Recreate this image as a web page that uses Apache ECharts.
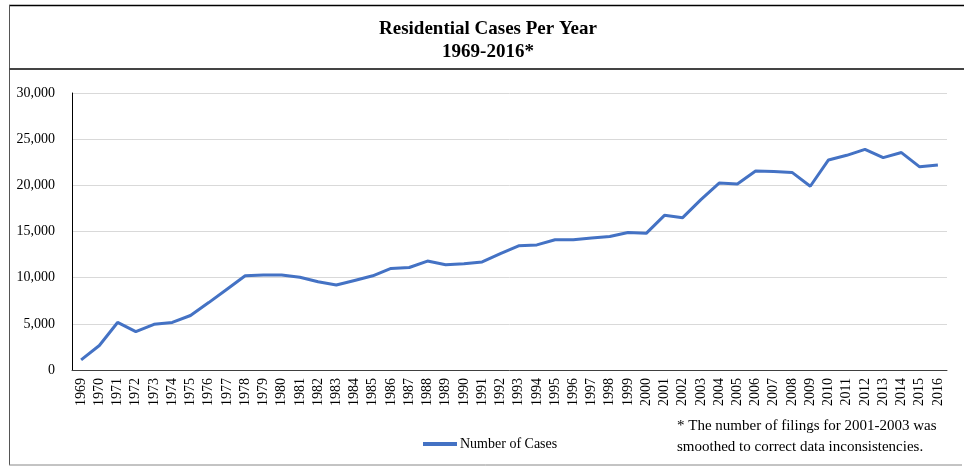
<!DOCTYPE html>
<html>
<head>
<meta charset="utf-8">
<script src="https://cdn.jsdelivr.net/npm/echarts@6/dist/echarts.min.js"></script>
<style>
  html, body { margin: 0; padding: 0; background: #fff; }
  #chart { width: 964px; height: 466px; }
</style>
</head>
<body>
<div id="chart"></div>
<script>
// Data
const years = [];
for (let y = 1969; y <= 2016; y++) years.push(String(y));

const cases = [
    1100, 2650, 5150, 4150, 4950, 5150, 5900, 7300, 8750, 10200,
    10300, 10300, 10050, 9550, 9200, 9700, 10200, 11000, 11100, 11800,
    11400, 11500, 11700, 12600, 13450, 13550, 14100, 14100, 14300, 14450,
    14900, 14800, 16750, 16500, 18450, 20250, 20150, 21550, 21500, 21400,
    19900, 22750, 23250, 23900, 23000, 23550, 22000, 22200
];

const yTicks = [0, 5000, 10000, 15000, 20000, 25000, 30000];

const serif = '"Liberation Serif", "Times New Roman", serif';

const chart = echarts.init(document.getElementById('chart'));
chart.setOption({
    backgroundColor: '#fff',
    animation: false,
    title: {
        text: 'Residential Cases Per Year\n1969-2016*',
        left: 488,
        top: 18,
        padding: 0,
        textAlign: 'center',
        textStyle: {
            fontFamily: serif,
            fontSize: 19,
            fontWeight: 'bold',
            color: '#000',
            lineHeight: 23
        }
    },
    legend: {
        data: ['Number of Cases'],
        left: 418,
        top: 432,
        itemWidth: 34,
        itemHeight: 4,
        itemGap: 4,
        icon: 'rect',
        textStyle: {fontFamily: serif, fontSize: 14, color: '#000', padding: [0, 0, 0, -2]}
    },
    grid: {
        left: 72,
        right: 17,
        top: 93,
        bottom: 96,
        containLabel: false
    },
    xAxis: {
        type: 'category',
        data: years,
        boundaryGap: true,
        axisLine: {lineStyle: {color: '#404040', width: 1}},
        axisTick: {show: false},
        axisLabel: {
            interval: 0,
            rotate: 90,
            margin: 8,
            fontFamily: serif,
            fontSize: 14,
            color: '#000'
        }
    },
    yAxis: {
        type: 'value',
        min: yTicks[0],
        max: yTicks[yTicks.length - 1],
        interval: 5000,
        axisLine: {show: true, lineStyle: {color: '#000', width: 1}},
        axisTick: {show: false},
        splitLine: {lineStyle: {color: '#d9d9d9', width: 1}},
        axisLabel: {
            margin: 17,
            fontFamily: serif,
            fontSize: 14,
            color: '#000',
            formatter: v => v.toLocaleString('en-US')
        }
    },
    series: [{
        name: 'Number of Cases',
        type: 'line',
        data: cases,
        symbol: 'none',
        smooth: false,
        lineStyle: {color: '#4472C4', width: 3},
        itemStyle: {color: '#4472C4'}
    }],
    graphic: [
        // outer frame
        {type: 'line', shape: {x1: 9, y1: 5.5, x2: 964, y2: 5.5}, style: {stroke: '#000', lineWidth: 1.5}},
        {type: 'line', shape: {x1: 9.5, y1: 5, x2: 9.5, y2: 465}, style: {stroke: '#555', lineWidth: 1}},
        {type: 'line', shape: {x1: 9, y1: 69, x2: 964, y2: 69}, style: {stroke: '#444', lineWidth: 2}},
        {type: 'line', shape: {x1: 9, y1: 465, x2: 962, y2: 465}, style: {stroke: '#888', lineWidth: 1}},
        // footnote
        {
            type: 'text',
            left: 677,
            top: 416,
            style: {
                text: '* The number of filings for 2001-2003 was\nsmoothed to correct data inconsistencies.',
                font: '15px ' + serif,
                fill: '#000',
                lineHeight: 21
            }
        }
    ]
});
</script>
</body>
</html>
